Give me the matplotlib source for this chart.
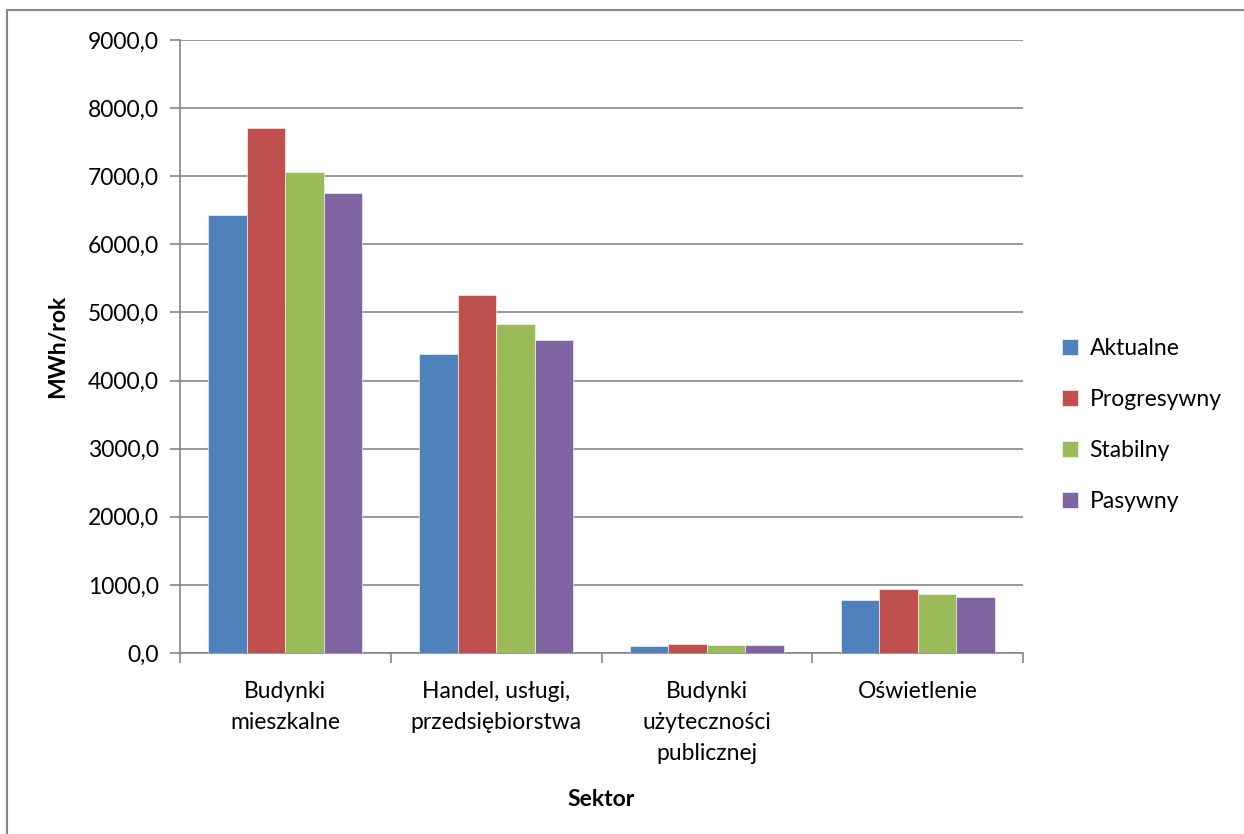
import matplotlib.pyplot as plt
import matplotlib.lines as mlines
import numpy as np

# zuzycie energii wg sektora i scenariusza
sektory = ["Budynki\nmieszkalne", "Handel, usługi,\nprzedsiębiorstwa",
           "Budynki\nużyteczności\npublicznej", "Oświetlenie"]
scenariusze = ["Aktualne", "Progresywny", "Stabilny", "Pasywny"]
aktualne = [6427, 4386, 107, 784]
progresywny = [7709, 5261, 132, 941]
stabilny = [7068, 4827, 122, 862]
pasywny = [6750, 4601, 112, 824]
kolory = ["#4F81BD", "#C0504D", "#9BBB59", "#8064A2"]
yticks = np.arange(0, 9001, 1000)

plt.rcParams['font.family'] = ['Lato', 'DejaVu Sans']
fs = 16.5

fig = plt.figure(figsize=(12.44, 8.34), dpi=100)
ax = fig.add_axes([180 / 1244, 1 - 653 / 834, 843 / 1244, 613 / 834])

serie = [aktualne, progresywny, stabilny, pasywny]
x = np.arange(len(sektory))
w = 0.1825
for i, (nazwa, vals) in enumerate(zip(scenariusze, serie)):
    ax.bar(x + (i - 1.5) * w, vals, w, color=kolory[i], label=nazwa,
           edgecolor='white', linewidth=0.4, zorder=3)

ax.set_xlim(-0.5, 3.5)
ax.set_ylim(0, 9000)
ax.set_yticks(yticks)
ax.set_yticklabels([f"{v:.1f}".replace('.', ',') for v in yticks], fontsize=fs)
ax.yaxis.grid(True, color='#868686', linewidth=1.2, zorder=0)

ax.set_xticks(x)
ax.set_xticklabels(sektory, fontsize=fs, linespacing=1.6)
ax.tick_params(axis='x', length=0, pad=20)
ax.set_xticks(np.arange(-0.5, 4, 1), minor=True)
ax.tick_params(axis='x', which='minor', length=7, color='#868686', width=1.2)
ax.tick_params(axis='y', length=7, color='#868686', width=1.2, pad=8)

for s in ['top', 'right']:
    ax.spines[s].set_visible(False)
for s in ['left', 'bottom']:
    ax.spines[s].set_color('#868686')
    ax.spines[s].set_linewidth(1.2)

ax.set_ylabel("MWh/rok", fontsize=fs, fontweight='bold', labelpad=14)
ax.set_xlabel("Sektor", fontsize=fs, fontweight='bold', labelpad=18)

fig.legend(loc='center left', bbox_to_anchor=(1062 / 1244, 1 - 425 / 834),
           frameon=False, fontsize=fs, handlelength=0.7, handleheight=0.7,
           labelspacing=1.3, borderaxespad=0, borderpad=0, handletextpad=0.5)

# ramka wykresu (lewa i gorna krawedz)
fig.add_artist(mlines.Line2D([7 / 1244, 7 / 1244, 1.0], [0.0, 1 - 9.5 / 834, 1 - 9.5 / 834],
                             transform=fig.transFigure, color='#868686', linewidth=1.5))

fig.savefig("out.png", dpi=100, facecolor='white')
